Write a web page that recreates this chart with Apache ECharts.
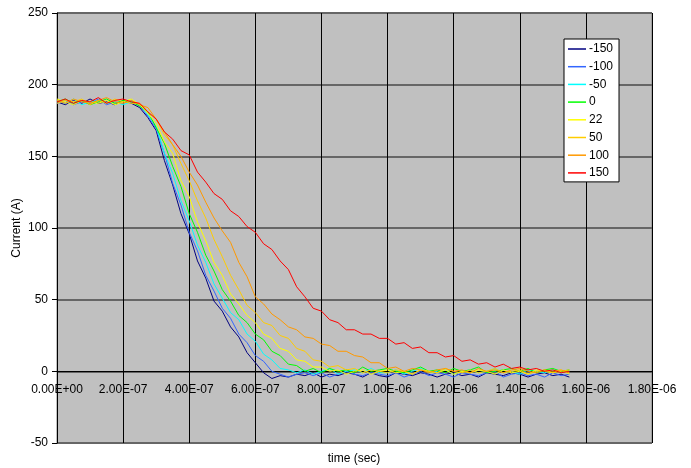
<!DOCTYPE html>
<html>
<head>
<meta charset="utf-8">
<script src="https://cdn.jsdelivr.net/npm/echarts@6/dist/echarts.min.js"></script>
<style>
html,body{margin:0;padding:0;background:#fff;}
#chart{width:691px;height:468px;}
</style>
</head>
<body>
<div id="chart"></div>
<script>
// time in units of 1E-7 s
var times = [0,0.25,0.5,0.75,1,1.25,1.5,1.75,2,2.25,
 2.5,2.75,3,3.25,3.5,3.75,4,4.25,4.5,4.75,
 5,5.25,5.5,5.75,6,6.25,6.5,6.75,7,7.25,
 7.5,7.75,8,8.25,8.5,8.75,9,9.25,9.5,9.75,
 10,10.25,10.5,10.75,11,11.25,11.5,11.75,12,12.25,
 12.5,12.75,13,13.25,13.5,13.75,14,14.25,14.5,14.75,
 15,15.25,15.5];

var seriesNames = ['-150','-100','-50','0','22','50','100','150'];

var sNeg150 = [188,186,189,187,190,187,188,186,189,187,
 184,177,168,147,130,110,96,77,65,49,
 42,31,24,13,6,-1,-5,-3,-4,-2,
 -3,-1,-4,-2,-3,-1,-2,-4,-1,-3,
 -4,-1,-2,-3,-1,-2,-4,-2,-1,-3,
 -2,-4,-1,-2,-3,-1,-2,-4,-2,-1,
 -3,-2,-4];
var sNeg100 = [187,189,186,188,187,190,186,188,187,189,
 185,178,169,152,131,116,97,84,67,56,
 44,37,26,20,11,7,0,-2,-4,-2,
 -1,-3,-1,-4,-2,0,-2,-3,-1,-2,
 -3,-1,-4,-2,0,-3,-1,-2,-4,-1,
 -2,-3,-1,0,-4,-2,-1,-3,-2,-4,
 -1,-3,-2];
var sNeg50 = [189,187,190,186,188,189,187,188,186,188,
 186,179,171,152,138,119,105,88,76,61,
 51,41,36,26,21,12,8,2,1,-1,
 1,-2,0,2,-2,0,1,-1,2,-1,
 -1,1,-2,0,2,-1,0,1,-2,0,
 1,-1,0,2,-1,0,-2,1,0,-1,
 1,-1,0];
var s0 = [188,190,187,189,186,188,190,187,189,188,
 185,181,170,159,143,129,110,97,81,70,
 57,49,39,34,26,22,14,11,5,4,
 0,2,-1,2,0,1,-1,3,0,1,
 2,0,-1,1,3,0,1,-1,2,0,
 1,3,-1,0,1,2,0,2,-1,1,
 2,0,1];
var s22 = [190,188,186,189,188,187,189,186,188,190,
 186,180,173,160,152,133,122,104,91,76,
 67,54,47,39,34,26,23,16,14,8,
 7,3,3,0,1,-2,0,1,-2,0,
 1,-1,0,-2,1,0,-1,1,-2,0,
 -1,1,0,-2,1,-1,0,-2,1,0,
 -1,1,-2];
var s50 = [187,189,188,190,186,189,187,190,188,187,
 187,181,176,165,158,145,133,119,107,92,
 80,67,57,46,41,34,32,25,23,16,
 14,8,7,3,4,1,2,-1,1,0,
 -1,1,0,-2,1,0,-1,2,0,-1,
 1,-1,0,2,-1,0,1,-2,0,1,
 -1,0,1];
var s100 = [189,187,190,188,187,189,191,188,187,189,
 186,184,176,167,158,150,139,130,118,107,
 98,90,76,66,52,47,40,36,31,29,
 24,23,19,18,14,14,11,10,6,6,
 2,3,0,2,1,-1,1,2,0,1,
 -1,2,0,1,-1,1,2,0,-1,1,
 0,1,-1];
var s150 = [188,190,187,189,188,191,187,189,190,188,
 187,181,176,167,162,154,151,139,132,124,
 120,112,108,101,97,89,85,77,71,59,
 52,44,42,36,34,29,29,26,26,23,
 23,19,20,16,17,13,13,10,11,7,
 8,5,6,3,5,2,3,1,2,0,
 1,-1,0];

var seriesValues = [sNeg150,sNeg100,sNeg50,s0,s22,s50,s100,s150];
var colors = ['#000080','#3366ff','#00ffff','#00ff00','#ffff00','#ffcc00','#ff9900','#ff0000'];

var yTicks = [-50,0,50,100,150,200,250];
var xMin = 0, xMax = 18, xStep = 2;

function fmtExp(v){
  if (Math.abs(v) < 1e-9) return '0.00E+00';
  var s = v * 1e-7;
  var e = Math.floor(Math.log10(Math.abs(s)) + 1e-9);
  var m = s / Math.pow(10, e);
  return m.toFixed(2) + 'E' + (e < 0 ? '-' : '+') + String(Math.abs(e)).padStart(2, '0');
}

var FONT = 'Liberation Sans, Arial, sans-serif';

var series = seriesNames.map(function(name, k){
  return {
    name: name,
    type: 'line',
    data: times.map(function(t, i){ return [t, seriesValues[k][i]]; }),
    showSymbol: false,
    symbol: 'none',
    lineStyle: { width: 1, color: colors[k] },
    itemStyle: { color: colors[k] },
    emphasis: { disabled: true },
    animation: false
  };
});

var GRID_TOP = 13, GRID_BOTTOM = 25, H = 468;
var plotH = H - GRID_TOP - GRID_BOTTOM;
var zeroOffset = -plotH * (0 - yTicks[0]) / (yTicks[yTicks.length-1] - yTicks[0]);

var chart = echarts.init(document.getElementById('chart'), null, { renderer: 'canvas' });
chart.setOption({
  animation: false,
  backgroundColor: '#ffffff',
  textStyle: { fontFamily: FONT },
  grid: {
    left: 57, right: 39, top: GRID_TOP, bottom: GRID_BOTTOM,
    outerBoundsMode: 'none', containLabel: false,
    show: true, backgroundColor: '#c0c0c0', borderColor: '#808080', borderWidth: 1
  },
  xAxis: {
    type: 'value', min: xMin, max: xMax, interval: xStep,
    position: 'bottom', offset: zeroOffset,
    axisLine: { show: true, onZero: false, lineStyle: { color: '#000', width: 1 } },
    axisTick: { show: false },
    axisLabel: { formatter: fmtExp, color: '#000', fontSize: 12, fontFamily: FONT, margin: 12, showMaxLabel: true, showMinLabel: true, hideOverlap: false },
    splitLine: { show: true, lineStyle: { color: '#000', width: 1 } }
  },
  yAxis: {
    type: 'value', min: yTicks[0], max: yTicks[yTicks.length-1], interval: 50,
    name: 'Current (A)', nameLocation: 'middle', nameGap: 34, nameMoveOverlap: false,
    nameTextStyle: { color: '#000', fontSize: 12, fontFamily: FONT },
    axisLine: { show: true, onZero: false, lineStyle: { color: '#000', width: 1 } },
    axisTick: { show: true, length: 5, lineStyle: { color: '#000' } },
    axisLabel: { color: '#000', fontSize: 12, fontFamily: FONT, margin: 9 },
    splitLine: { show: true, lineStyle: { color: '#666666', width: 2 } }
  },
  legend: {
    orient: 'vertical', left: 564, top: 39,
    data: seriesNames,
    icon: 'rect', itemWidth: 18, itemHeight: 1.5, itemGap: 3.7,
    padding: [3, 6, 2, 4],
    backgroundColor: '#ffffff', borderColor: '#000', borderWidth: 1,
    textStyle: { color: '#000', fontSize: 12, fontFamily: FONT, lineHeight: 14, padding: [0,0,0,-2] },
    selectedMode: false
  },
  graphic: [{
    type: 'text', x: 354, y: 459,
    style: { text: 'time (sec)', textAlign: 'center', textVerticalAlign: 'middle', font: '12px ' + FONT, fill: '#000' }
  }],
  series: series
});
</script>
</body>
</html>
